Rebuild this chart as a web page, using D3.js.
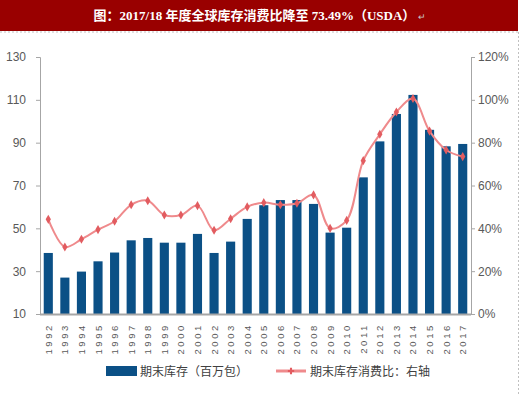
<!DOCTYPE html>
<html>
<head>
<meta charset="utf-8">
<script src="https://cdn.jsdelivr.net/npm/d3@7"></script>
<style>
  body { margin: 0; background: #ffffff; }
  text { font-family: "Liberation Sans", Arial, "Noto Sans CJK SC", sans-serif; }
</style>
</head>
<body>
<div id="container"></div>
<script>
/* DATA */
const years = ["1992","1993","1994","1995","1996","1997","1998","1999","2000","2001","2002","2003","2004",
  "2005","2006","2007","2008","2009","2010","2011","2012","2013","2014","2015","2016","2017"];
// ending stocks, million bales (left axis)
const stocks = [38.5, 27, 29.8, 34.6, 38.7, 44.4, 45.5, 43.3, 43.3, 47.4, 38.5, 43.8, 54.4,
  60.8, 63.2, 63.2, 61.4, 48, 50.3, 73.8, 90.6, 103.4, 112.3, 96, 88.3, 89.4];
// stocks-to-use ratio (right axis)
const ratio = [0.442, 0.313, 0.349, 0.394, 0.433, 0.510, 0.529, 0.462, 0.462, 0.506, 0.391, 0.445, 0.500,
  0.520, 0.510, 0.517, 0.556, 0.400, 0.437, 0.716, 0.839, 0.943, 1.006, 0.854, 0.766, 0.7349];
const leftTicks = [10, 30, 50, 70, 90, 110, 130];
const rightTicks = [0, 0.2, 0.4, 0.6, 0.8, 1.0, 1.2];

const title = "图：2017/18 年度全球库存消费比降至 73.49%（USDA）";
const legendBar = "期末库存（百万包）";
const legendLine = "期末库存消费比：右轴";

/* CONSTANTS */
const W = 520, H = 395;
const plot = { left: 40, right: 471, top: 57, bottom: 314 };
const barColor = "#0b5086";
const lineColor = "#ef8a8c";
const dotColor = "#e25c60";

const rows = years.map((y, i) => ({ year: y, stock: stocks[i], ratio: ratio[i] }));

const svg = d3.select("#container")
  .append("svg")
  .attr("width", W)
  .attr("height", H);

/* HEADER */
svg.append("rect")
  .attr("x", 0).attr("y", 0)
  .attr("width", 518).attr("height", 31)
  .attr("fill", "#990000");

const t = svg.append("text")
  .attr("x", 260).attr("y", 20)
  .attr("text-anchor", "middle")
  .attr("fill", "#ffffff")
  .style("font-family", "\"Liberation Serif\", \"Noto Sans CJK SC\", serif")
  .style("font-size", "13px")
  .style("font-weight", "bold");
t.append("tspan").text(title);
t.append("tspan").attr("dx", 3).style("font-size", "9px").style("font-weight", "normal")
  .attr("fill", "#c8c8c8").text("↵");

// dashed frame
svg.append("line")
  .attr("x1", 0).attr("x2", 518).attr("y1", 32).attr("y2", 32)
  .attr("stroke", "#c0c0c0").attr("stroke-dasharray", "2,2");
svg.append("line")
  .attr("x1", 518.5).attr("x2", 518.5).attr("y1", 32).attr("y2", H)
  .attr("stroke", "#c0c0c0").attr("stroke-dasharray", "2,2");

/* SCALES */
const xScale = d3.scaleBand()
  .domain(years)
  .range([plot.left, plot.right])
  .paddingInner(0.45)
  .paddingOuter(0.225);

const yLeft = d3.scaleLinear()
  .domain([10, 130])
  .range([plot.bottom, plot.top]);

const yRight = d3.scaleLinear()
  .domain([0, 1.2])
  .range([plot.bottom, plot.top]);

/* AXES */
const axisColor = "#a6a6a6";
const labelColor = "#595959";

const gl = svg.append("g")
  .attr("transform", `translate(${plot.left},0)`)
  .call(d3.axisLeft(yLeft).tickValues(leftTicks).tickSize(4).tickPadding(10));
gl.select(".domain").attr("stroke", axisColor);
gl.selectAll(".tick line").attr("stroke", axisColor);
gl.selectAll(".tick text").attr("fill", labelColor).style("font-size", "12px");

const gr = svg.append("g")
  .attr("transform", `translate(${plot.right},0)`)
  .call(d3.axisRight(yRight).tickValues(rightTicks).tickFormat(d3.format(".0%")).tickSize(4).tickPadding(3));
gr.select(".domain").attr("stroke", axisColor);
gr.selectAll(".tick line").attr("stroke", axisColor);
gr.selectAll(".tick text").attr("fill", labelColor).style("font-size", "12px");

/* BARS */
svg.selectAll(".bar")
  .data(rows)
  .join("rect")
  .attr("class", "bar")
  .attr("x", d => xScale(d.year))
  .attr("y", d => yLeft(d.stock))
  .attr("width", xScale.bandwidth())
  .attr("height", d => yLeft(10) - yLeft(d.stock))
  .attr("fill", barColor);

// bottom axis line
svg.append("line")
  .attr("x1", plot.left).attr("x2", plot.right)
  .attr("y1", plot.bottom + 0.5).attr("y2", plot.bottom + 0.5)
  .attr("stroke", axisColor).attr("stroke-width", 2);

// year labels
svg.selectAll(".year")
  .data(years)
  .join("text")
  .attr("class", "year")
  .attr("transform", d => `translate(${xScale(d) + xScale.bandwidth() / 2 + 3.5},323) rotate(-90)`)
  .attr("text-anchor", "end")
  .attr("fill", labelColor)
  .style("font-size", "9.5px")
  .style("letter-spacing", "2.6px")
  .text(d => d);

/* LINE */
const line = d3.line()
  .x(d => xScale(d.year) + xScale.bandwidth() / 2)
  .y(d => yRight(d.ratio))
  .curve(d3.curveCatmullRom.alpha(0.5));

svg.append("path")
  .datum(rows)
  .attr("d", line)
  .attr("fill", "none")
  .attr("stroke", lineColor)
  .attr("stroke-width", 2);

svg.selectAll(".dot")
  .data(rows)
  .join("path")
  .attr("class", "dot")
  .attr("transform", d => `translate(${xScale(d.year) + xScale.bandwidth() / 2},${yRight(d.ratio)})`)
  .attr("d", d3.symbol(d3.symbolDiamond, 24))
  .attr("fill", dotColor);

/* LEGEND */
svg.append("rect")
  .attr("x", 106).attr("y", 366)
  .attr("width", 31).attr("height", 10)
  .attr("fill", barColor);
svg.append("text")
  .attr("x", 140).attr("y", 376)
  .attr("fill", "#404040")
  .style("font-family", "\"Noto Sans CJK SC\", sans-serif")
  .style("font-size", "12px")
  .text(legendBar);

svg.append("line")
  .attr("x1", 276).attr("x2", 306).attr("y1", 371).attr("y2", 371)
  .attr("stroke", lineColor).attr("stroke-width", 3);
svg.append("path")
  .attr("transform", "translate(291,371)")
  .attr("d", d3.symbol(d3.symbolCross, 22))
  .attr("fill", dotColor);
svg.append("text")
  .attr("x", 310).attr("y", 376)
  .attr("fill", "#404040")
  .style("font-family", "\"Noto Sans CJK SC\", sans-serif")
  .style("font-size", "12px")
  .text(legendLine);
</script>
</body>
</html>
